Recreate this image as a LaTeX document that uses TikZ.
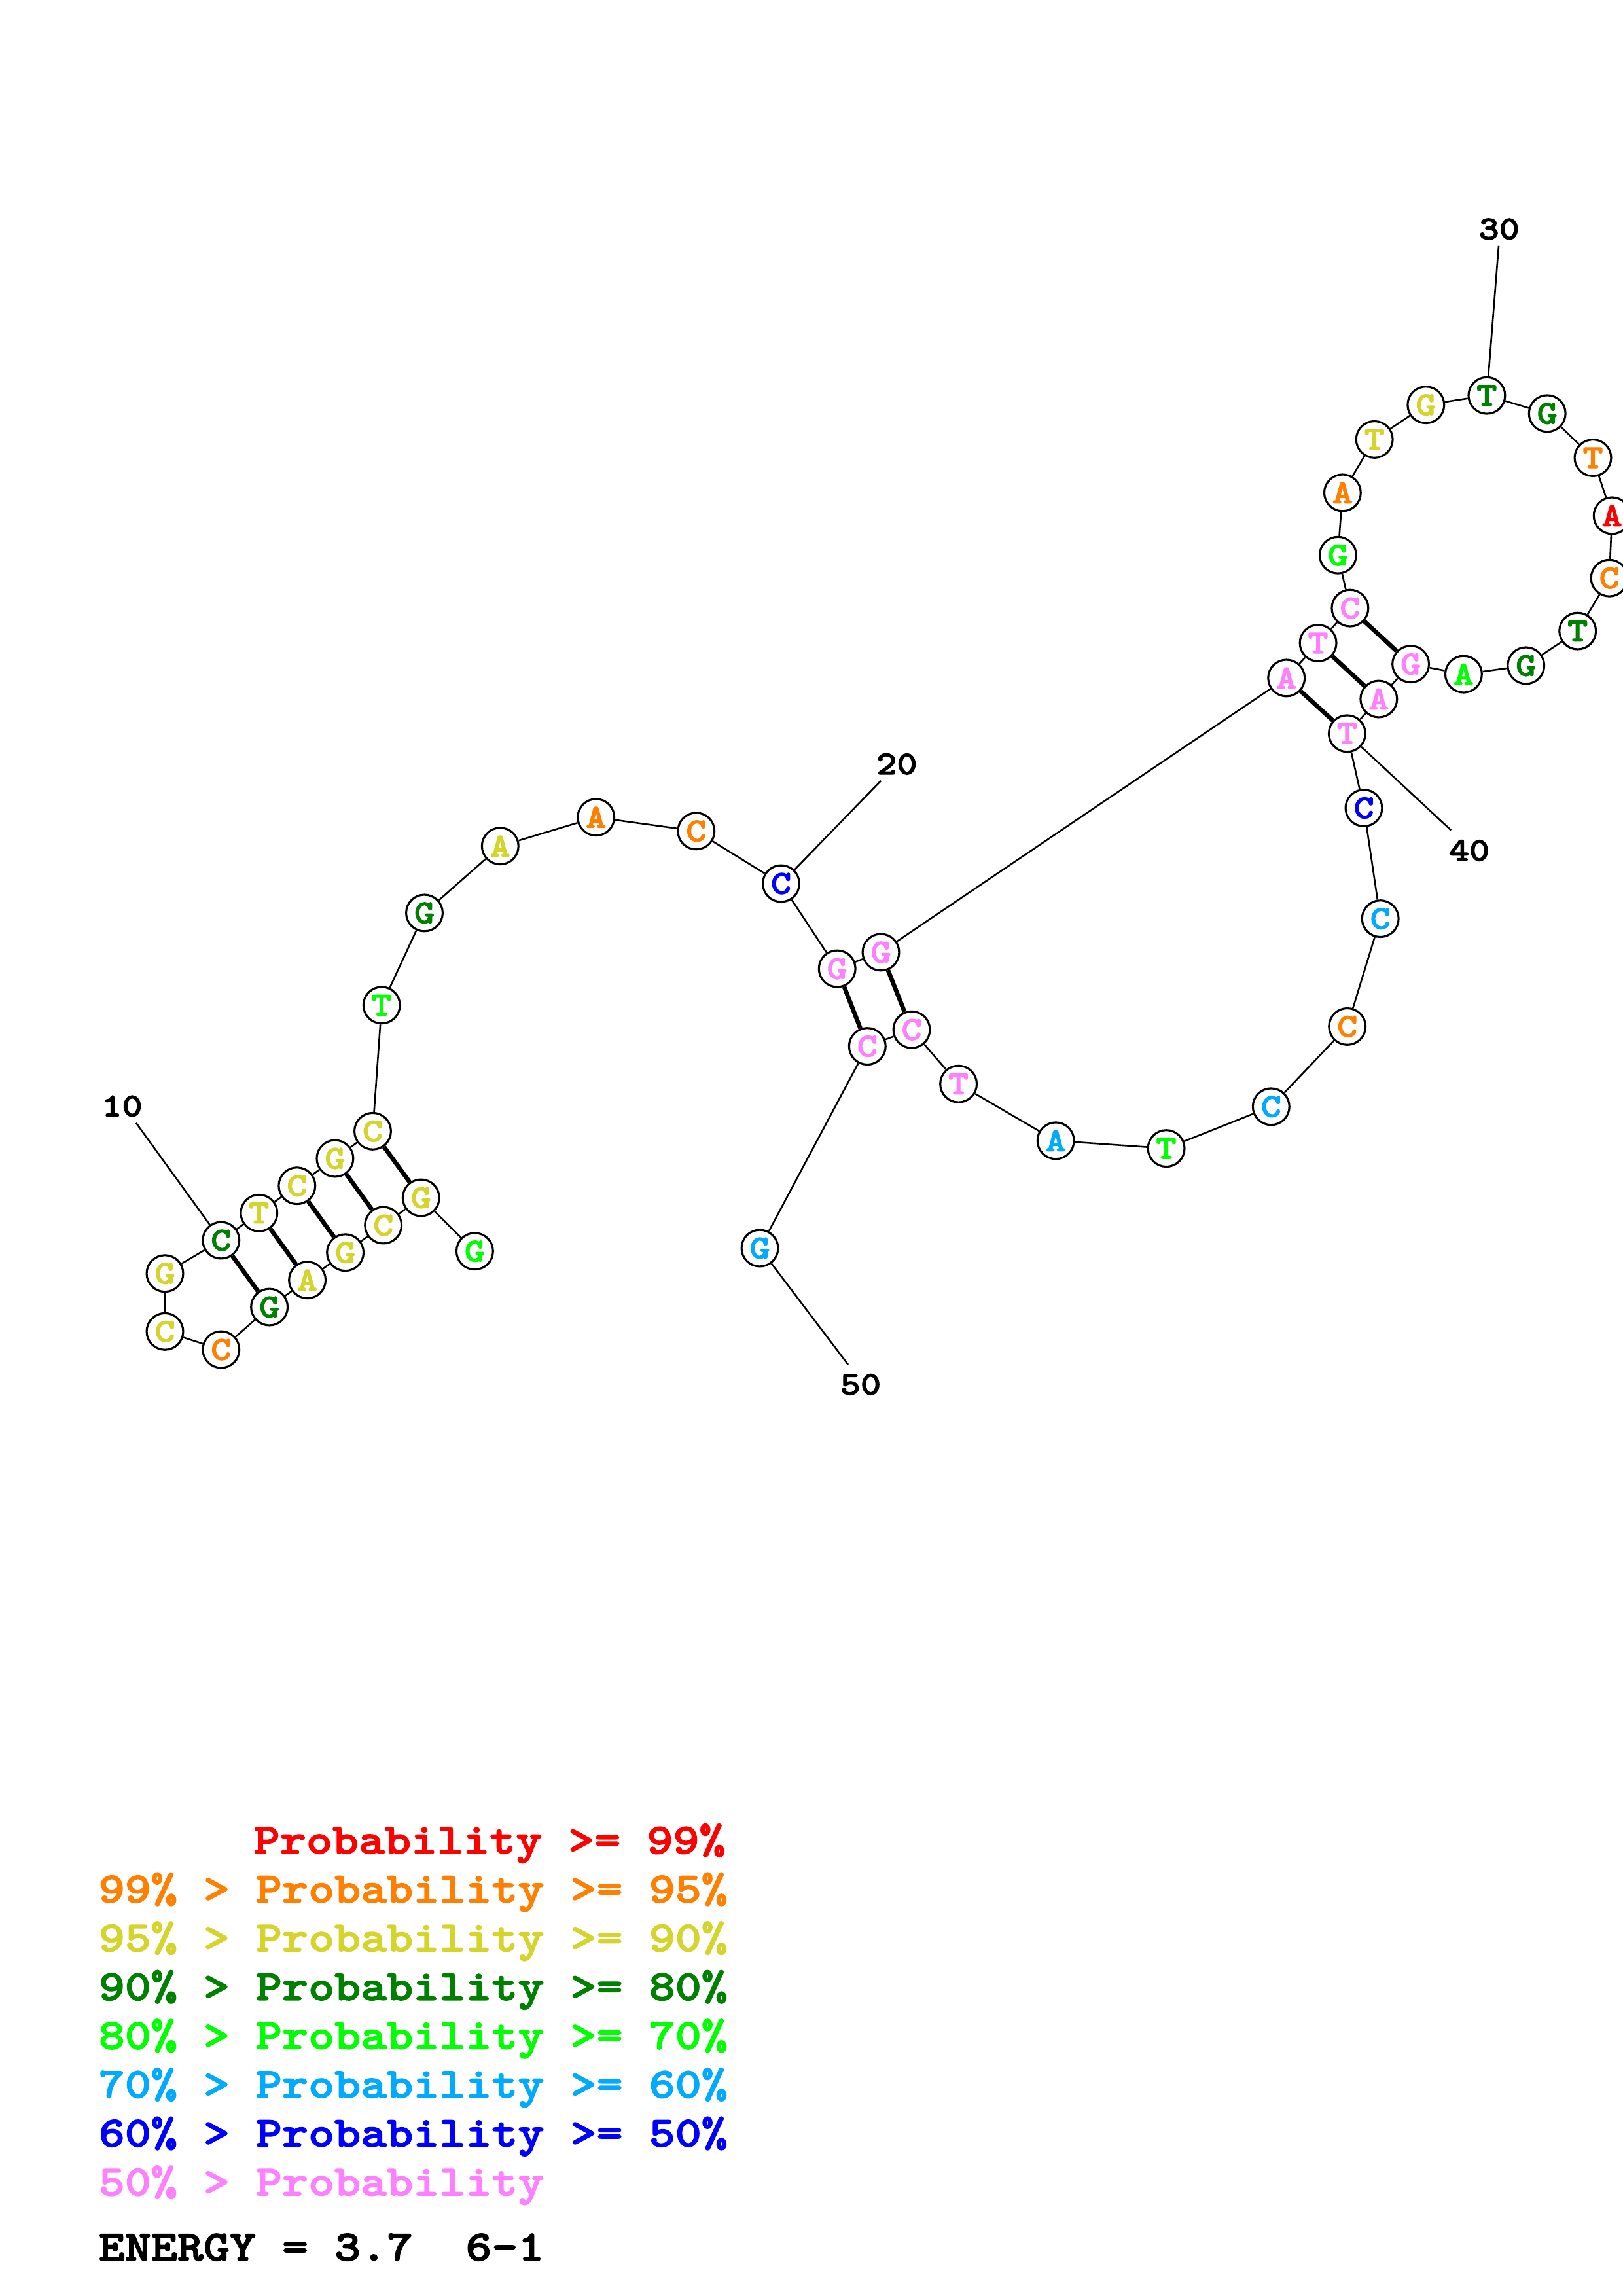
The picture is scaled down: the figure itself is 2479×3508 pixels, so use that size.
\documentclass[tikz,border=0pt]{standalone}
\usepackage{fontspec}
\newfontfamily\cour{lmmonolt10-bold}[Extension=.otf, FakeStretch=1.16, FakeBold=2.2]
\definecolor{cRed}{RGB}{255,0,0}
\definecolor{cOra}{RGB}{255,128,0}
\definecolor{cYel}{RGB}{212,212,44}
\definecolor{cDgr}{RGB}{0,128,0}
\definecolor{cLgr}{RGB}{0,255,0}
\definecolor{cLbl}{RGB}{0,170,255}
\definecolor{cBlu}{RGB}{0,0,255}
\definecolor{cPnk}{RGB}{255,128,255}
\begin{document}
\begin{tikzpicture}[x=0.24bp,y=-0.24bp,
  base/.style={circle, draw=black, line width=0.75bp, fill=white, minimum size=13.4bp, inner sep=0pt, font=\cour\fontsize{12.3}{12}\selectfont},
  bb/.style={line width=0.62bp},
  pr/.style={line width=1.6bp},
  lab/.style={font=\cour\fontsize{12.3}{12}\selectfont, inner sep=0pt},
  leg/.style={font=\cour\fontsize{15.84}{16}\selectfont, inner sep=0pt, anchor=base west}]
\useasboundingbox (0,0) rectangle (2479,3508);
% nucleotides
\node[base,text=cLgr] (n1) at (725.4,1911.7) {G};
\node[base,text=cYel] (n2) at (643.3,1830) {G};
\node[base,text=cYel] (n3) at (585.7,1872) {C};
\node[base,text=cYel] (n4) at (527.6,1913.7) {G};
\node[base,text=cYel] (n5) at (469.6,1955.7) {A};
\node[base,text=cDgr] (n6) at (411.6,1997) {G};
\node[base,text=cOra] (n7) at (337.8,2062) {C};
\node[base,text=cYel] (n8) at (252,2034.3) {C};
\node[base,text=cYel] (n9) at (252,1945.7) {G};
\node[base,text=cDgr] (n10) at (337.8,1895) {C};
\node[base,text=cYel] (n11) at (395.8,1853.3) {T};
\node[base,text=cYel] (n12) at (453.8,1811.7) {C};
\node[base,text=cYel] (n13) at (511.9,1770) {G};
\node[base,text=cYel] (n14) at (569.5,1728.3) {C};
\node[base,text=cLgr] (n15) at (583.2,1535.8) {T};
\node[base,text=cDgr] (n16) at (648.5,1394.9) {G};
\node[base,text=cYel] (n17) at (764.3,1292.7) {A};
\node[base,text=cOra] (n18) at (910.7,1248.7) {A};
\node[base,text=cOra] (n19) at (1063.8,1269.8) {C};
\node[base,text=cBlu] (n20) at (1193.5,1350) {C};
\node[base,text=cPnk] (n21) at (1279.2,1480) {G};
\node[base,text=cPnk] (n22) at (1346,1454.9) {G};
\node[base,text=cPnk] (n23) at (1965.7,1035.9) {A};
\node[base,text=cPnk] (n24) at (2014.1,982.5) {T};
\node[base,text=cPnk] (n25) at (2062.9,929.1) {C};
\node[base,text=cLgr] (n26) at (2044.4,848.2) {G};
\node[base,text=cOra] (n27) at (2051.4,752.9) {A};
\node[base,text=cYel] (n28) at (2100.2,671.4) {T};
\node[base,text=cYel] (n29) at (2178.8,618.6) {G};
\node[base,text=cDgr] (n30) at (2271.9,604.2) {T};
\node[base,text=cDgr] (n31) at (2364.2,631.8) {G};
\node[base,text=cOra] (n32) at (2434,699.5) {T};
\node[base,text=cRed] (n33) at (2463.2,787.9) {A};
\node[base,text=cOra] (n34) at (2459.1,883.2) {C};
\node[base,text=cDgr] (n35) at (2410.7,964.1) {T};
\node[base,text=cDgr] (n36) at (2331.7,1016.9) {G};
\node[base,text=cLgr] (n37) at (2236.4,1030.1) {A};
\node[base,text=cPnk] (n38) at (2155.6,1014.6) {G};
\node[base,text=cPnk] (n39) at (2106.8,1068) {A};
\node[base,text=cPnk] (n40) at (2058.4,1120.8) {T};
\node[base,text=cBlu] (n41) at (2084,1234.5) {C};
\node[base,text=cLbl] (n42) at (2109.2,1403.6) {C};
\node[base,text=cOra] (n43) at (2058.7,1568.4) {C};
\node[base,text=cLbl] (n44) at (1942.3,1690.8) {C};
\node[base,text=cLgr] (n45) at (1782.1,1754.6) {T};
\node[base,text=cLbl] (n46) at (1613.2,1742.8) {A};
\node[base,text=cPnk] (n47) at (1464.6,1656.2) {T};
\node[base,text=cPnk] (n48) at (1393,1573.2) {C};
\node[base,text=cPnk] (n49) at (1325.3,1598.6) {C};
\node[base,text=cLbl] (n50) at (1161,1907) {G};
% backbone
\foreach \a/\b in {1/2,2/3,3/4,4/5,5/6,6/7,7/8,8/9,9/10,10/11,11/12,12/13,13/14,14/15,15/16,16/17,17/18,18/19,19/20,20/21,21/22,22/23,23/24,24/25,25/26,26/27,27/28,28/29,29/30,30/31,31/32,32/33,33/34,34/35,35/36,36/37,37/38,38/39,39/40,40/41,41/42,42/43,43/44,44/45,45/46,46/47,47/48,48/49,49/50}
  \draw[bb] (n\a) -- (n\b);
% base pairs
\foreach \a/\b in {2/14,3/13,4/12,5/11,6/10,21/49,22/48,23/40,24/39,25/38}
  \draw[pr] (n\a) -- (n\b);
% numbering
\node[lab] (t10) at (186.5,1690) {10};
\coordinate (e10) at (208,1715.7);
\draw[bb] (n10) -- (e10);
\node[lab] (t20) at (1370.4,1167.4) {20};
\coordinate (e20) at (1346,1192.9);
\draw[bb] (n20) -- (e20);
\node[lab] (t30) at (2290.7,349.9) {30};
\coordinate (e30) at (2290,375.8);
\draw[bb] (n30) -- (e30);
\node[lab] (t40) at (2245,1299.5) {40};
\coordinate (e40) at (2217.2,1268.5);
\draw[bb] (n40) -- (e40);
\node[lab] (t50) at (1315,2115.3) {50};
\coordinate (e50) at (1296,2085);
\draw[bb] (n50) -- (e50);
% legend
\node[leg,text=cRed] (g1) at (387,2832) {Probability >= 99\%};
\node[leg,text=cOra] (g2) at (150,2906.6) {99\% > Probability >= 95\%};
\node[leg,text=cYel] (g3) at (150,2981.2) {95\% > Probability >= 90\%};
\node[leg,text=cDgr] (g4) at (150,3055.8) {90\% > Probability >= 80\%};
\node[leg,text=cLgr] (g5) at (150,3130.4) {80\% > Probability >= 70\%};
\node[leg,text=cLbl] (g6) at (150,3205) {70\% > Probability >= 60\%};
\node[leg,text=cBlu] (g7) at (150,3279.6) {60\% > Probability >= 50\%};
\node[leg,text=cPnk] (g8) at (150,3354.2) {50\% > Probability};
\node[leg,text=black] (en) at (150,3453.7) {ENERGY = 3.7\ \ 6-1};
\end{tikzpicture}
\end{document}
